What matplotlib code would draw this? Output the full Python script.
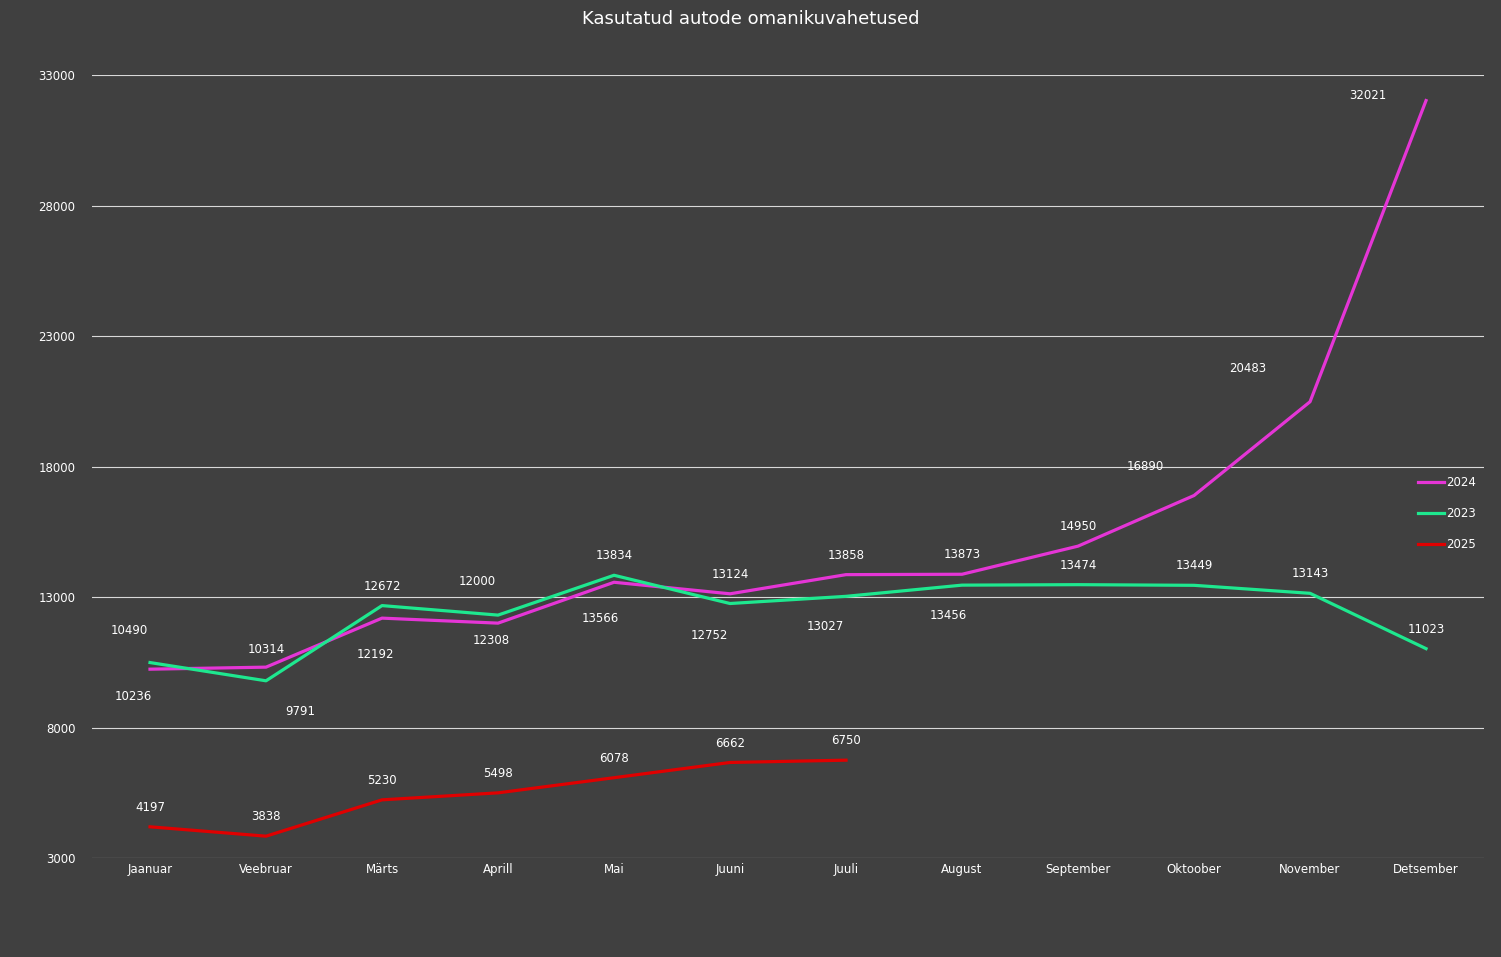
import matplotlib.pyplot as plt

months = ["Jaanuar", "Veebruar", "Märts", "Aprill", "Mai", "Juuni", "Juuli",
          "August", "September", "Oktoober", "November", "Detsember"]
y2024 = [10236, 10314, 12192, 12000, 13566, 13124, 13858, 13873, 14950, 16890, 20483, 32021]
y2023 = [10490, 9791, 12672, 12308, 13834, 12752, 13027, 13456, 13474, 13449, 13143, 11023]
y2025 = [4197, 3838, 5230, 5498, 6078, 6662, 6750]
yticks = [3000, 8000, 13000, 18000, 23000, 28000, 33000]

# label offsets in points (dx, dy)
off2024 = [(-12, -20), (0, 13), (-5, -26), (-15, 30), (-10, -26), (0, 14), (0, 14),
           (0, 14), (0, 14), (-35, 21), (-45, 24), (-42, 4)]
off2023 = [(-15, 23), (25, -22), (0, 14), (-5, -18), (0, 14), (-15, -23), (-15, -22),
           (-10, -22), (0, 14), (0, 14), (0, 14), (0, 14)]
off2025 = [(0, 14)] * 7

BG = "#404040"
fig = plt.figure(figsize=(15.01, 9.57), dpi=100, facecolor=BG)
ax = fig.add_axes([0.0613, 0.1034, 0.9274, 0.8182], facecolor=BG)

series = [("2024", y2024, "#e535d6", off2024),
          ("2023", y2023, "#1ee88f", off2023),
          ("2025", y2025, "#e00000", off2025)]
for name, ys, col, offs in series:
    xs = range(len(ys))
    ax.plot(xs, ys, color=col, lw=2.3, label=name, zorder=3)
    for x, y, (dx, dy) in zip(xs, ys, offs):
        ax.annotate(str(y), (x, y), xytext=(dx, dy), textcoords="offset points",
                    ha="center", va="center", color="white", fontsize=8.5)

ax.set_xlim(-0.5, 11.5)
ax.set_ylim(3000, 33000)
ax.set_yticks(yticks)
ax.set_xticks(range(12))
ax.set_xticklabels(months)
ax.tick_params(colors="white", labelsize=8.5, length=0)
ax.tick_params(axis="y", pad=12)
ax.grid(axis="y", color="#d9d9d9", lw=0.8)
ax.set_axisbelow(True)
for s in ax.spines.values():
    s.set_visible(False)

ax.legend(loc="center left", bbox_to_anchor=(0.945, 0.44), frameon=False,
          labelcolor="white", fontsize=8.5, handlelength=2.2, labelspacing=1.5,
          handletextpad=0.2)
fig.text(0.5, 0.98, "Kasutatud autode omanikuvahetused", ha="center", va="center",
         color="white", fontsize=13)

fig.savefig("out.png", dpi=100, facecolor=BG)
